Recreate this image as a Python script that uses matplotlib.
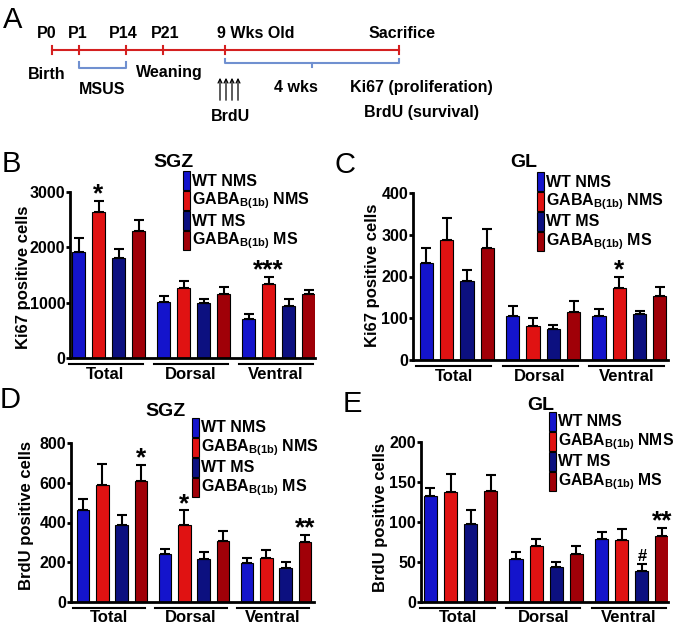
import matplotlib
matplotlib.use('Agg')
import matplotlib.pyplot as plt
import matplotlib.transforms as mtransforms
from matplotlib.patches import Rectangle
import numpy as np

plt.rcParams['font.family'] = ['Liberation Sans', 'DejaVu Sans']
plt.rcParams['font.weight'] = 'bold'
plt.rcParams['mathtext.fontset'] = 'custom'
plt.rcParams['mathtext.rm'] = 'Liberation Sans:bold'
plt.rcParams['mathtext.bf'] = 'Liberation Sans:bold'
plt.rcParams['mathtext.it'] = 'Liberation Sans:bold'

W, H = 674, 628

# --- data ---
groups = ['Total', 'Dorsal', 'Ventral']
series = ['WT NMS', r'GABA$_{\mathrm{B(1b)}}$ NMS', 'WT MS', r'GABA$_{\mathrm{B(1b)}}$ MS']
colors = ['#1414cc', '#e01212', '#0c1080', '#a00008']

# rows = groups (Total, Dorsal, Ventral), cols = series
ki67_sgz = [[1916, 2635, 1808, 2293], [1018, 1263, 988, 1162], [707, 1329, 946, 1150]]
ki67_sgz_err = [[252, 209, 168, 192], [102, 126, 72, 125], [89, 138, 114, 78]]
ki67_gl = [[233, 288, 189, 269], [105, 81, 74, 116], [105, 173, 109, 153]]
ki67_gl_err = [[36, 51, 26, 44], [25, 19, 11, 25], [17, 27, 8, 21]]
brdu_sgz = [[465, 590, 389, 609], [240, 389, 218, 307], [195, 223, 171, 300]]
brdu_sgz_err = [[55, 106, 47, 82], [28, 72, 34, 50], [26, 37, 30, 37]]
brdu_gl = [[133, 138, 98, 139], [54, 70, 44, 60], [79, 77, 39, 82]]
brdu_gl_err = [[10, 22, 17, 20], [9, 9, 6, 10], [8, 14, 9, 11]]

# significance marks: (group, series, text)
marks_b = [(0, 1, '*'), (2, 1, '***')]
marks_c = [(2, 1, '*')]
marks_d = [(0, 3, '*'), (1, 1, '*'), (2, 3, '**')]
marks_e = [(2, 2, '#'), (2, 3, '**')]

# timeline (panel A)
tl_x = [52, 79, 126, 163, 225, 399]
tl_top = ['P0', 'P1', 'P14', 'P21', '9 Wks Old', 'Sacrifice']

fig = plt.figure(figsize=(W / 100, H / 100), dpi=100)


def rect(x0, y0, x1, y1):
    return [x0 / W, 1 - y1 / H, (x1 - x0) / W, (y1 - y0) / H]


def ftext(x, y, s, **kw):
    fig.text(x / W, 1 - y / H, s, **kw)


def legend(x, y, size):
    # stacked colour blocks with labels, like the GraphPad legend
    for j, (c, s) in enumerate(zip(colors, series)):
        top = y + 20 * j
        fig.add_artist(Rectangle((x / W, 1 - (top + 19) / H), 7 / W, 19 / H,
                                 transform=fig.transFigure, facecolor=c,
                                 edgecolor='black', lw=0.8))
        ftext(x + 9, top + 10, s, ha='left', va='center', fontsize=size,
              fontweight='bold')


def panel(box, means, errs, ymax, ystep, xlim, ylabel, ylab_xy, title, title_xy,
          leg_xy, leg_size, letter, letter_xy, marks):
    ax = fig.add_axes(rect(*box))
    means = np.array(means, float)
    errs = np.array(errs, float)
    gap = 4.25
    for i in range(4):
        x = np.arange(3) * gap + i
        ax.bar(x, means[:, i], 0.65, color=colors[i], edgecolor='black', lw=0.8,
               yerr=[np.zeros(3), errs[:, i]], capsize=3.6,
               error_kw=dict(lw=1.5, capthick=1.5, ecolor='black'), zorder=2)
    for g, i, s in marks:
        fs = 12 if s == '#' else 19
        off = 0 if s == '#' else -4
        ax.annotate(s, (g * gap + i, means[g, i] + errs[g, i]), xytext=(0, off),
                    textcoords='offset points', ha='center', va='bottom',
                    fontsize=fs, fontweight='bold')
    ax.set_xlim(*xlim)
    ax.set_ylim(0, ymax)
    ax.set_yticks(np.arange(0, ymax + 1, ystep))
    ax.set_xticks([])
    for sp in ['top', 'right']:
        ax.spines[sp].set_visible(False)
    for sp in ['left', 'bottom']:
        ax.spines[sp].set_linewidth(2)
    ax.tick_params(axis='y', length=3, width=2, pad=0.5, labelsize=11.5)
    for lab in ax.get_yticklabels():
        lab.set_fontweight('bold')
    trans = mtransforms.blended_transform_factory(ax.transData, ax.transAxes)
    for g, name in enumerate(groups):
        ax.plot([g * gap - 0.5, g * gap + 3.2], [-0.036, -0.036], transform=trans,
                color='black', lw=1.5, clip_on=False)
        ax.text(g * gap + 1.35, -0.1, name, transform=trans, ha='center', va='center',
                fontsize=12, fontweight='bold')
    legend(leg_xy[0], leg_xy[1], leg_size)
    ftext(ylab_xy[0], ylab_xy[1], ylabel, rotation=90, ha='center', va='center',
          fontsize=12, fontweight='bold')
    ftext(title_xy[0], title_xy[1], title, ha='center', va='baseline',
          fontsize=14, fontweight='bold')
    ftext(letter_xy[0], letter_xy[1], letter, ha='left', va='baseline',
          fontsize=21, fontweight='normal')
    return ax


panel((70, 192, 315, 358), ki67_sgz, ki67_sgz_err, 3000, 1000, (-0.425, 11.825),
      'Ki67 positive cells', (24, 277), 'SGZ', (173, 167), (183, 171), 11.5,
      'B', (2, 172), marks_b)
panel((413, 193, 668, 360), ki67_gl, ki67_gl_err, 400, 100, (-0.66, 11.9),
      'Ki67 positive cells', (373, 275), 'GL', (524, 167), (537, 172), 11.5,
      'C', (335, 173), marks_c)
panel((71, 443, 314, 602), brdu_sgz, brdu_sgz_err, 800, 200, (-0.62, 11.97),
      'BrdU positive cells', (26, 516), 'SGZ', (166, 416), (192, 418), 11.5,
      'D', (0, 408), marks_d)
panel((421, 442, 668, 602), brdu_gl, brdu_gl_err, 200, 50, (-0.47, 11.8),
      'BrdU positive cells', (381, 518), 'GL', (541, 410), (549, 412), 11.3,
      'E', (343, 412), marks_e)

# --- panel A: timeline ---
axa = fig.add_axes([0, 1 - 150 / H, 1, 150 / H])
axa.set_xlim(0, W)
axa.set_ylim(150, 0)
axa.axis('off')
red = '#d42020'
blue = '#7090d0'
fs = 11.5
axa.plot([tl_x[0], tl_x[-1]], [50, 50], color=red, lw=1.5)
for x in tl_x:
    axa.plot([x, x], [46, 54], color=red, lw=1.5)
top_x = [47, 78, 123, 165, 217, 402]
for x, s in zip(top_x, tl_top):
    ha = 'left' if s.startswith('9') else 'center'
    axa.text(x, 38, s, ha=ha, va='baseline', fontsize=fs, fontweight='bold')
# MSUS bracket
axa.plot([tl_x[1], tl_x[1], tl_x[2], tl_x[2]], [62, 68, 68, 62], color=blue, lw=1.5)
# 4 wks bracket
axa.plot([tl_x[4], tl_x[4], tl_x[5], tl_x[5]], [59, 63, 63, 59], color=blue, lw=1.5)
axa.plot([312, 312], [63, 67], color=blue, lw=1.5)
axa.text(47, 79, 'Birth', ha='center', va='baseline', fontsize=fs, fontweight='bold')
axa.text(102, 94, 'MSUS', ha='center', va='baseline', fontsize=fs, fontweight='bold')
axa.text(169, 77, 'Weaning', ha='center', va='baseline', fontsize=fs, fontweight='bold')
axa.text(296, 92, '4 wks', ha='center', va='baseline', fontsize=fs, fontweight='bold')
axa.text(421, 92, 'Ki67 (proliferation)', ha='center', va='baseline', fontsize=fs, fontweight='bold')
axa.text(421, 117, 'BrdU (survival)', ha='center', va='baseline', fontsize=fs, fontweight='bold')
axa.text(231, 121, 'BrdU', ha='center', va='baseline', fontsize=fs, fontweight='bold')
for x in [220, 226, 232, 238]:
    axa.annotate('', xy=(x, 75), xytext=(x, 103),
                 arrowprops=dict(arrowstyle='->', lw=0.9, color='black',
                                 mutation_scale=7))
fig.text(3 / W, 1 - 28 / H, 'A', ha='left', va='baseline', fontsize=21, fontweight='normal')

fig.savefig('out.png', dpi=100)
